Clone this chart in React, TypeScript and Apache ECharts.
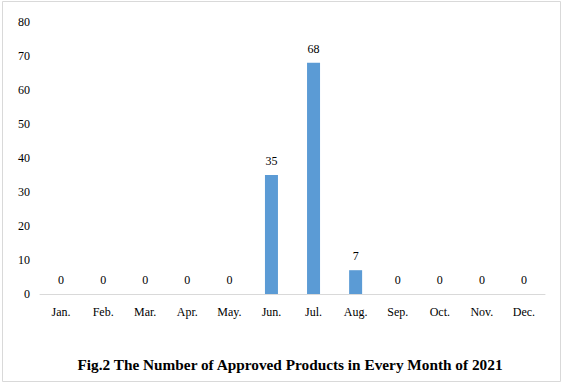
import React, { useEffect, useRef } from "react";
import * as echarts from "echarts";

const months = ["Jan.", "Feb.", "Mar.", "Apr.", "May.", "Jun.", "Jul.", "Aug.", "Sep.", "Oct.", "Nov.", "Dec."];
const approved = [0, 0, 0, 0, 0, 35, 68, 7, 0, 0, 0, 0];
const titleText = "Fig.2 The Number of Approved Products in Every Month of 2021";

export default function App() {
  const ref = useRef<HTMLDivElement>(null);
  useEffect(() => {
    document.body.style.margin = "0";
    const chart = echarts.init(ref.current!, null, { renderer: "svg" });
    const font = "'Liberation Serif', 'Times New Roman', serif";
    chart.setOption({
      animation: false,
      backgroundColor: "#ffffff",
      textStyle: { fontFamily: font },
      title: {
        text: titleText,
        left: 285,
        textAlign: "center",
        top: 352,
        textStyle: { fontFamily: font, fontWeight: "bold", fontSize: 15.3, color: "#000000" },
      },
      graphic: [
        {
          type: "rect",
          shape: { x: 2.5, y: 1.5, width: 558, height: 380 },
          style: { fill: "none", stroke: "#d9d9d9", lineWidth: 1 },
        },
      ],
      grid: { left: 40, right: 19, top: 22, bottom: 90, containLabel: false },
      xAxis: {
        type: "category",
        data: months,
        axisLine: { lineStyle: { color: "#d9d9d9", width: 1 } },
        axisTick: { show: false },
        axisLabel: { color: "#000000", fontSize: 12, margin: 12, fontFamily: font },
      },
      yAxis: {
        type: "value",
        min: 0,
        max: 80,
        interval: 10,
        splitLine: { show: false },
        axisLine: { show: false },
        axisTick: { show: false },
        axisLabel: { color: "#000000", fontSize: 12, margin: 10, fontFamily: font },
      },
      series: [
        {
          type: "bar",
          data: approved,
          barWidth: 13,
          itemStyle: { color: "#5b9bd5" },
          label: { show: true, position: "top", distance: 8, color: "#000000", fontSize: 12, fontFamily: font },
        },
      ],
    });
    return () => chart.dispose();
  }, []);
  return <div ref={ref} style={{ width: 564, height: 384 }} />;
}
